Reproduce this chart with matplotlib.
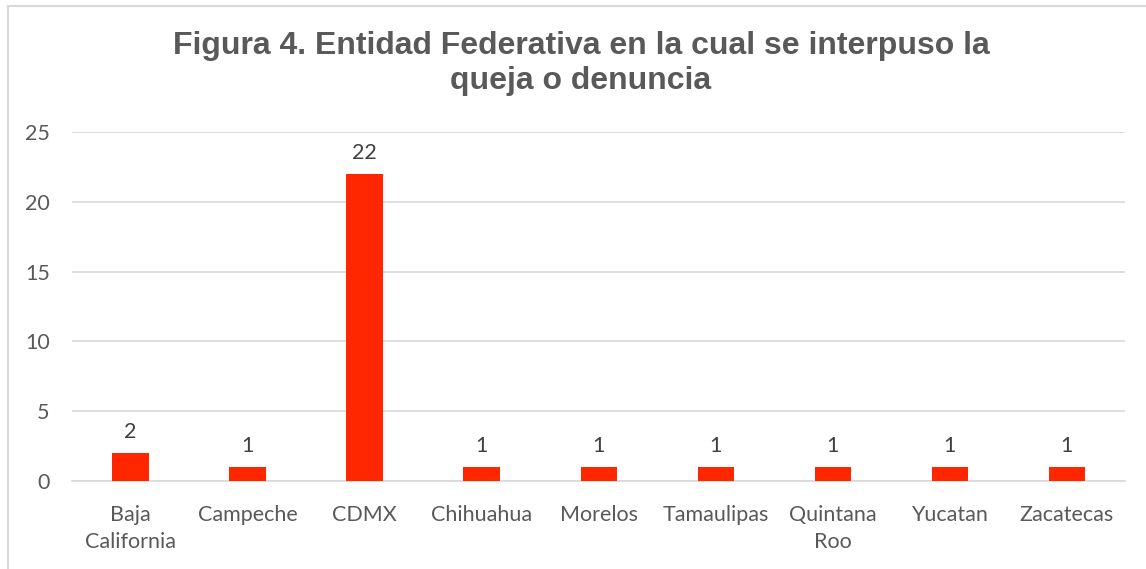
import matplotlib.pyplot as plt
from matplotlib.lines import Line2D

# Datos
entidades = ["Baja\nCalifornia", "Campeche", "CDMX", "Chihuahua", "Morelos",
             "Tamaulipas", "Quintana\nRoo", "Yucatan", "Zacatecas"]
quejas = [2, 1, 22, 1, 1, 1, 1, 1, 1]
y_ticks = [0, 5, 10, 15, 20, 25]

gris = "#595959"
rojo = "#FF2600"

fig = plt.figure(figsize=(11.46, 5.69), dpi=100)
ax = fig.add_axes([0.0628, 0.1547, 0.9192, 0.6133])

x = range(len(entidades))
ax.bar(x, quejas, width=0.31, color=rojo, zorder=3)

for xi, v in zip(x, quejas):
    ax.annotate(str(v), (xi, v), xytext=(0, 8), textcoords="offset points",
                ha="center", va="bottom", fontsize=15.5, color="#404040",
                family="Lato")

ax.set_xlim(-0.5, len(entidades) - 0.5)
ax.set_ylim(0, 25)
ax.set_yticks(y_ticks)
ax.set_xticks(list(x))
ax.set_xticklabels(entidades, fontsize=15.5, color=gris, family="Lato",
                   linespacing=1.45)
ax.set_yticklabels([str(t) for t in y_ticks], fontsize=15.5, color=gris,
                   family="Lato")
ax.tick_params(axis="y", length=0, pad=16)
ax.tick_params(axis="x", length=0, pad=17)
ax.grid(axis="y", color="#D9D9D9", linewidth=1.2, zorder=0)
for s in ["top", "right", "left"]:
    ax.spines[s].set_visible(False)
ax.spines["bottom"].set_color("#D9D9D9")
ax.spines["bottom"].set_linewidth(1.2)

fig.text(0.507, 0.888, "Figura 4. Entidad Federativa en la cual se interpuso la\nqueja o denuncia",
         ha="center", va="center", fontsize=23, fontweight="bold", color=gris,
         family="Liberation Sans", linespacing=1.22)

# marco del gráfico
fig.add_artist(Line2D([8 / 1146, 1], [1 - 6 / 569, 1 - 6 / 569],
                      color="#D9D9D9", linewidth=1.5))
fig.add_artist(Line2D([8 / 1146, 8 / 1146], [0, 1 - 6 / 569],
                      color="#D9D9D9", linewidth=1.5))

fig.savefig("out.png", dpi=100)
